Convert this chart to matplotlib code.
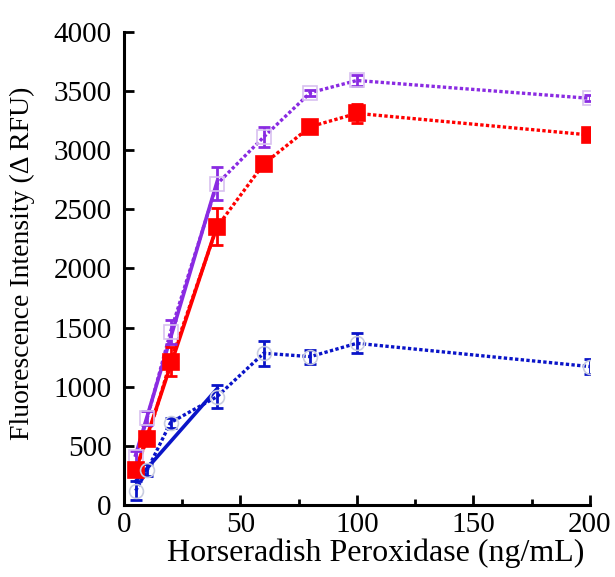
import numpy as np
import matplotlib
matplotlib.use("Agg")
import matplotlib.pyplot as plt
from matplotlib.ticker import MultipleLocator

# HRP concentration (ng/mL)
conc = [5, 10, 20, 40, 60, 80, 100, 200]

# mean fluorescence and error for each series
purple_y = [406, 736, 1465, 2715, 3112, 3487, 3590, 3439]
purple_err = [50, 60, 100, 140, 85, 25, 50, 25]
red_y = [296, 558, 1212, 2353, 2884, 3199, 3312, 3129]
red_err = [30, 40, 120, 155, 50, 40, 80, 30]
blue_y = [120, 296, 696, 916, 1283, 1254, 1367, 1170]
blue_err = [80, 50, 42, 96, 107, 60, 85, 63]

# points used for the linear range fit
n_lin = 4

plt.rcParams['font.family'] = ['Liberation Serif', 'DejaVu Serif']

fig = plt.figure(figsize=(6.15, 5.77), dpi=100)
ax = fig.add_axes([0.2016, 0.125, 0.7574, 0.8195])

series = [
    (purple_y, purple_err, '#8a2be2', 's', 'none', '#d8c0f0'),
    (red_y, red_err, '#ff0000', 's', '#ff0000', '#ff0000'),
    (blue_y, blue_err, '#0a14c8', 'o', 'none', '#c8cce0'),
]

dots = (0, (1, 0.7))
for ys, errs, col, mk, mfc, mec in series:
    ax.plot(conc, ys, linestyle=dots, color=col, lw=2.4, zorder=2)
    ax.errorbar(conc, ys, yerr=errs, fmt='none', ecolor=col, elinewidth=2,
                capsize=4, capthick=2, zorder=3)
    ms = 11 if mfc != 'none' else 10
    ax.plot(conc, ys, linestyle='none', marker=mk, markersize=ms,
            markerfacecolor=mfc, markeredgecolor=mec, markeredgewidth=1.2,
            zorder=4)
    # linear fit over the low-concentration range
    xs = np.array(conc[:n_lin])
    k, b = np.polyfit(xs, np.array(ys[:n_lin]), 1)
    ax.plot([xs[0], xs[-1]], [k * xs[0] + b, k * xs[-1] + b], '-', color=col,
            lw=2.6, zorder=2)

ax.set_xlim(0, 200)
ax.set_ylim(0, 4000)
ax.xaxis.set_major_locator(MultipleLocator(50))
ax.xaxis.set_minor_locator(MultipleLocator(25))
ax.yaxis.set_major_locator(MultipleLocator(500))

for side in ['top', 'right']:
    ax.spines[side].set_visible(False)
for side in ['left', 'bottom']:
    ax.spines[side].set_linewidth(2.2)
ax.tick_params(which='major', direction='in', length=7, width=2,
               labelsize=21)
ax.tick_params(which='minor', direction='in', length=4, width=2)
ax.tick_params(axis='y', pad=9)
ax.tick_params(axis='x', pad=5)

ax.set_xlabel('Horseradish Peroxidase (ng/mL)', fontsize=23)
ax.xaxis.set_label_coords(0.54, -0.072)
ax.set_ylabel('Fluorescence Intensity (\u0394 RFU)', fontsize=20)
ax.yaxis.set_label_coords(-0.19, 0.51)

fig.savefig('out.png', dpi=100)
